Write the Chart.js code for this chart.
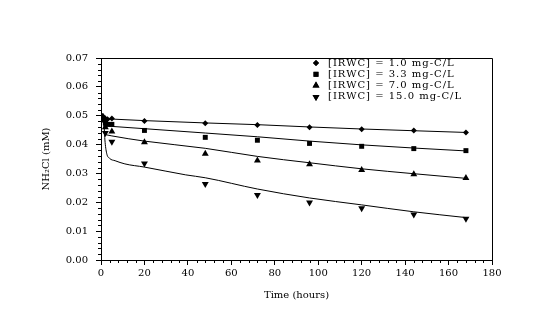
<!DOCTYPE html>
<html>
<head>
<meta charset="utf-8">
<script src="https://cdn.jsdelivr.net/npm/chart.js@4.4.1/dist/chart.umd.min.js"></script>
<style>
  body { margin: 0; background: #fff; }
  #wrap { width: 550px; height: 327px; }
</style>
</head>
<body>
<div id="wrap"><canvas id="chart" width="550" height="327"></canvas></div>
<script>
"use strict"

// measured points (time in hours, NH2Cl in mM)
const time1 = [0, 1, 2, 3, 5, 20, 48, 72, 96, 120, 144, 168];
const irwc1 = [0.0500, 0.0497, 0.0490, 0.0488, 0.0490, 0.0482, 0.0474, 0.0468, 0.0460, 0.0453, 0.0449, 0.0442];

const time2 = [0, 1, 2, 3, 5, 20, 48, 72, 96, 120, 144, 168];
const irwc2 = [0.0500, 0.0485, 0.0475, 0.0470, 0.0470, 0.0449, 0.0425, 0.0415, 0.0404, 0.0394, 0.0386, 0.0379];

const time3 = [0, 2, 5, 20, 48, 72, 96, 120, 144, 168];
const irwc3 = [0.0495, 0.0460, 0.0445, 0.0408, 0.0368, 0.0345, 0.0332, 0.0312, 0.0297, 0.0284];

const time4 = [0, 2, 5, 20, 48, 72, 96, 120, 144, 168];
const irwc4 = [0.0490, 0.0440, 0.0410, 0.0334, 0.0263, 0.0225, 0.0199, 0.0179, 0.0158, 0.0143];

// fitted curves
const fitTime1 = [0.5, 20, 48, 72, 96, 120, 144, 168];
const fitVal1 = [0.0490, 0.0483, 0.0475, 0.0469, 0.0461, 0.0454, 0.0448, 0.0442];

const fitTime2 = [1, 5, 20, 48, 72, 96, 120, 144, 168];
const fitVal2 = [0.0465, 0.0463, 0.0455, 0.0440, 0.0427, 0.0412, 0.0399, 0.0388, 0.0378];

const fitTime3 = [1.7, 5, 20, 48, 72, 96, 120, 144, 168];
const fitVal3 = [0.0435, 0.0430, 0.0412, 0.0387, 0.0359, 0.0337, 0.0316, 0.0299, 0.0283];

const fitTime4 = [1, 1.5, 1.8, 2.6, 4, 6.5, 11, 20, 39, 48, 72, 96, 120, 144, 168];
const fitVal4 = [0.0490, 0.0455, 0.0416, 0.0370, 0.0352, 0.0344, 0.0333, 0.0322, 0.0295, 0.0285, 0.0246, 0.0215, 0.0191, 0.0167, 0.0147];

const labels = [
    "[IRWC] = 1.0 mg-C/L",
    "[IRWC] = 3.3 mg-C/L",
    "[IRWC] = 7.0 mg-C/L",
    "[IRWC] = 15.0 mg-C/L"
];

const xTicks = [0, 20, 40, 60, 80, 100, 120, 140, 160, 180];
const yTicks = [0, 0.01, 0.02, 0.03, 0.04, 0.05, 0.06, 0.07];

const FONT = "'DejaVu Serif', 'Liberation Serif', serif";

function pts(xs, ys) {
    return xs.map((x, i) => ({ x: x, y: ys[i] }));
}

function markerSet(label, xs, ys, style, radius, rotation) {
    return {
        label: label,
        data: pts(xs, ys),
        showLine: false,
        pointStyle: style,
        pointRadius: radius,
        rotation: rotation,
        backgroundColor: "#000",
        borderColor: "#000",
        borderWidth: 0,
        isMarker: true
    };
}

function fitSet(xs, ys) {
    return {
        label: "fit",
        data: pts(xs, ys),
        showLine: true,
        pointRadius: 0,
        borderColor: "#000",
        borderWidth: 1,
        cubicInterpolationMode: "monotone",
        fill: false,
        isMarker: false
    };
}

// minor ticks + frame round the plot area
const frameTicks = {
    id: "frameTicks",
    afterDraw(chart) {
        const ctx = chart.ctx;
        const a = chart.chartArea;
        const xs = chart.scales.x;
        const ys = chart.scales.y;
        ctx.save();
        ctx.strokeStyle = "#000";
        ctx.lineWidth = 1;
        ctx.beginPath();
        ctx.moveTo(a.left, a.top + 0.5);
        ctx.lineTo(a.right + 0.5, a.top + 0.5);
        ctx.lineTo(a.right + 0.5, a.bottom);
        ctx.stroke();

        ctx.beginPath();
        for (let i = 1; i < 45; i++) {
            if (i % 5 === 0) continue;
            const px = Math.round(xs.getPixelForValue(i * 4)) + 0.5;
            ctx.moveTo(px, a.bottom);
            ctx.lineTo(px, a.bottom + 3);
        }
        for (let i = 1; i < 35; i++) {
            if (i % 5 === 0) continue;
            const py = Math.round(ys.getPixelForValue(i * 0.002)) + 0.5;
            ctx.moveTo(a.left, py);
            ctx.lineTo(a.left - 3, py);
        }
        ctx.stroke();
        ctx.restore();
    }
};

// legend inside the plot, top right
const insideLegend = {
    id: "insideLegend",
    afterDraw(chart) {
        const ctx = chart.ctx;
        const a = chart.chartArea;
        const markers = chart.data.datasets.filter(d => d.isMarker);
        ctx.save();
        ctx.font = "10px " + FONT;
        ctx.letterSpacing = "1px";
        ctx.fillStyle = "#000";
        ctx.textBaseline = "middle";
        markers.forEach((ds, i) => {
            const yy = a.top + 5 + i * 11.3;
            Chart.helpers.drawPoint(ctx, {
                pointStyle: ds.pointStyle,
                radius: ds.pointRadius,
                rotation: ds.rotation,
                borderWidth: 0
            }, a.right - 176, yy);
            ctx.fill();
            ctx.fillText(ds.label, a.right - 164, yy);
        });
        ctx.restore();
    }
};

const config = {
    type: "scatter",
    data: {
        datasets: [
            fitSet(fitTime1, fitVal1),
            fitSet(fitTime2, fitVal2),
            fitSet(fitTime3, fitVal3),
            fitSet(fitTime4, fitVal4),
            markerSet(labels[0], time1, irwc1, "rectRot", 3, 0),
            markerSet(labels[1], time2, irwc2, "rect", 3.5, 0),
            markerSet(labels[2], time3, irwc3, "triangle", 4, 0),
            markerSet(labels[3], time4, irwc4, "triangle", 4, 180)
        ]
    },
    options: {
        responsive: false,
        animation: false,
        layout: { padding: { left: 0, top: 58, right: 58, bottom: 0 } },
        plugins: {
            legend: { display: false },
            tooltip: { enabled: false }
        },
        scales: {
            x: {
                type: "linear",
                min: 0,
                max: 180,
                afterBuildTicks: s => { s.ticks = xTicks.map(v => ({ value: v })); },
                ticks: {
                    color: "#000",
                    font: { family: FONT, size: 10 },
                    padding: 2,
                    maxRotation: 0,
                    callback: v => String(v)
                },
                grid: { drawOnChartArea: false, tickLength: 5, tickColor: "#000" },
                border: { color: "#000", width: 1 },
                title: {
                    display: true,
                    text: "Time (hours)",
                    color: "#000",
                    font: { family: FONT, size: 10 },
                    padding: { top: 0, bottom: 26 }
                },
                afterFit: s => { s.height = 67; s.paddingLeft = 0; s.paddingRight = 0; }
            },
            y: {
                type: "linear",
                min: 0,
                max: 0.07,
                afterBuildTicks: s => { s.ticks = yTicks.map(v => ({ value: v })); },
                ticks: {
                    color: "#000",
                    font: { family: FONT, size: 10 },
                    padding: 8,
                    callback: v => v.toFixed(2)
                },
                grid: { drawOnChartArea: false, tickLength: 5, tickColor: "#000" },
                border: { color: "#000", width: 1 },
                title: {
                    display: true,
                    text: "NH\u2082Cl (mM)",
                    color: "#000",
                    font: { family: FONT, size: 10 },
                    padding: { top: 40, bottom: 0 }
                },
                afterFit: s => { s.width = 101; s.paddingTop = 0; s.paddingBottom = 0; }
            }
        }
    },
    plugins: [frameTicks, insideLegend]
};

let ctx = document.querySelector("#chart");
let nhChart = new Chart(ctx, config);
</script>
</body>
</html>
